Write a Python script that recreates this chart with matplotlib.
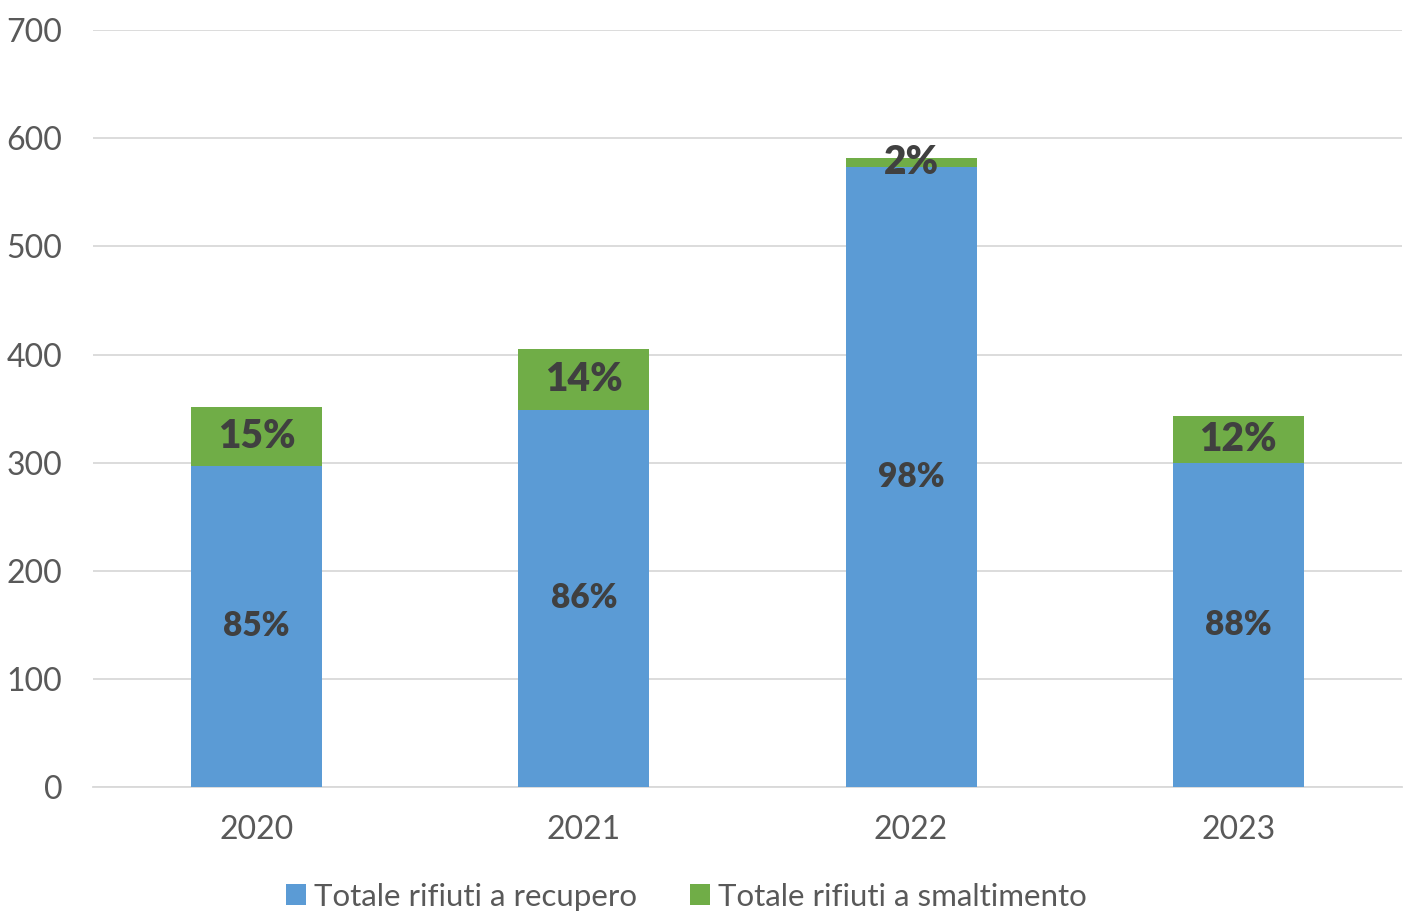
import matplotlib.pyplot as plt
import numpy as np

plt.rcParams['font.family'] = ['Lato', 'DejaVu Sans']

years = ['2020', '2021', '2022', '2023']
recupero = [297, 349, 573, 300]
smaltimento = [54, 56, 9, 43]
perc_recupero = ['85%', '86%', '98%', '88%']
perc_smaltimento = ['15%', '14%', '2%', '12%']

blue = '#5b9bd5'
green = '#70ad47'
grey_text = '#595959'
label_col = '#404040'

fig = plt.figure(figsize=(14.06, 9.14), dpi=100)
ax = fig.add_axes([0.0661, 0.139, 0.931, 0.828])

x = np.arange(len(years))
w = 0.4
b1 = ax.bar(x, recupero, w, color=blue, label='Totale rifiuti a recupero', zorder=3)
b2 = ax.bar(x, smaltimento, w, bottom=recupero, color=green,
            label='Totale rifiuti a smaltimento', zorder=3)

# etichette percentuali al centro dei segmenti
ax.bar_label(b1, labels=perc_recupero, label_type='center', fontsize=24,
             fontweight='heavy', color=label_col, zorder=4)
ax.bar_label(b2, labels=perc_smaltimento, label_type='center', fontsize=28,
             fontweight='heavy', color=label_col, zorder=4)

ax.set_ylim(0, 700)
ax.set_xlim(-0.5, 3.5)
ax.set_yticks(range(0, 701, 100))
ax.set_xticks(x)
ax.set_xticklabels(years)
ax.yaxis.grid(True, color='#d9d9d9', linewidth=1.3, zorder=0)
ax.set_axisbelow(True)
for s in ['top', 'right', 'left']:
    ax.spines[s].set_visible(False)
ax.spines['bottom'].set_color('#d9d9d9')
ax.spines['bottom'].set_linewidth(1.3)
ax.tick_params(axis='both', length=0, labelsize=23, colors=grey_text)
ax.tick_params(axis='y', pad=22)
ax.tick_params(axis='x', pad=20)

fig.legend(loc='lower center', bbox_to_anchor=(0.488, -0.027), ncol=2, frameon=False,
           fontsize=22.5, labelcolor=grey_text, handlelength=0.65, handleheight=0.65,
           handletextpad=0.25, columnspacing=1.7)

fig.savefig('out.png', dpi=100)
